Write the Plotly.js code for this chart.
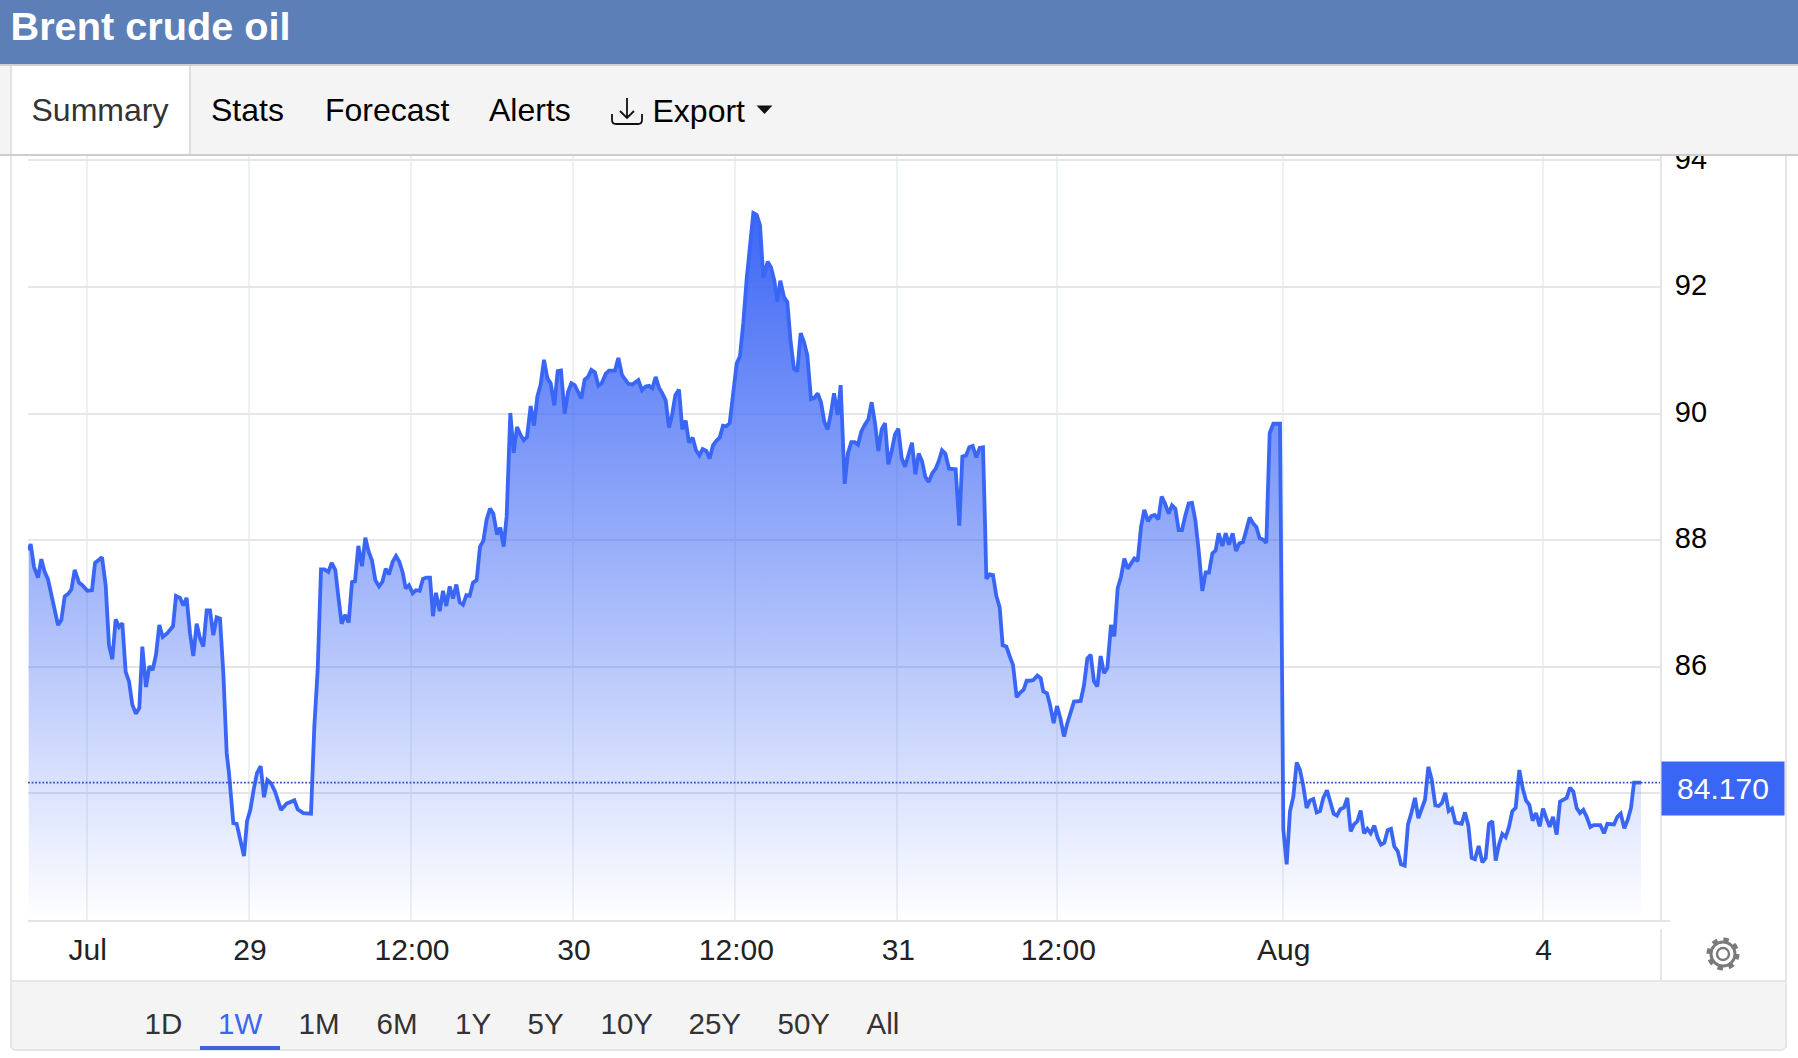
<!DOCTYPE html>
<html><head><meta charset="utf-8">
<script src="https://cdn.plot.ly/plotly-3.0.1.min.js"></script>
<style>
html,body{margin:0;padding:0;background:#fff;overflow:hidden;width:1798px;height:1058px;font-family:"Liberation Sans",Arial,sans-serif}
.a{position:absolute;white-space:nowrap}
.t{position:absolute;white-space:nowrap;line-height:1}
#plot{position:absolute;left:0;top:0;width:1798px;height:1058px;z-index:1}
#head{position:absolute;left:0;top:0;width:1798px;height:156px;z-index:2;background:#f4f4f4}
.tab{font-size:32px;top:94px;color:#000}
.rb{font-size:29.5px;top:1008.5px;color:#333;z-index:2}
</style></head><body>
<div id="head">
  <div class="a" style="left:0;top:0;width:1798px;height:64px;background:#5c7fb8"></div>
  <div class="a" style="left:0;top:64px;width:1798px;height:2px;background:#cfcfcf"></div>
  <div class="a" style="left:0;top:154px;width:1798px;height:2px;background:#cdcdcd"></div>
  <div class="t" style="left:10.5px;top:7px;font-size:39.7px;font-weight:bold;color:#fff">Brent crude oil</div>
  <div class="a" style="left:10px;top:66px;width:2px;height:88px;background:#e2e2e2"></div>
  <div class="a" style="left:12px;top:66px;width:177px;height:88px;background:#fff;border-right:2px solid #dedede"></div>
  <div class="t tab" style="left:31.5px;color:#333">Summary</div>
  <div class="t tab" style="left:211px">Stats</div>
  <div class="t tab" style="left:325px">Forecast</div>
  <div class="t tab" style="left:489px">Alerts</div>
  <svg class="a" style="left:608px;top:95px" width="38" height="32" viewBox="0 0 38 32" fill="none" stroke="#111" stroke-width="1.8">
    <path d="M19 3V22M12 16L19 23L26 16"/><path d="M4 19V25Q4 29 8 29H30Q34 29 34 25V19"/>
  </svg>
  <div class="t tab" style="left:652.5px;top:95px">Export</div>
  <svg class="a" style="left:756px;top:105px" width="18" height="10"><path d="M0.5 0.5H16.5L8.5 9Z" fill="#111"/></svg>
</div>
<div id="plot"></div>
<div class="a" style="left:10px;top:156px;width:2px;height:892px;background:#e6e6e6;z-index:0"></div>
<div class="a" style="left:1785px;top:156px;width:2px;height:892px;background:#e6e6e6;z-index:0"></div>
<div class="a" style="left:1660px;top:919.5px;width:10px;height:2px;background:#e6e6e6;z-index:0"></div>
<div class="a" style="left:1660px;top:929px;width:2px;height:51px;background:#e6e6e6;z-index:0"></div>
<div class="a" style="left:10px;top:980px;width:1777px;height:70.5px;box-sizing:border-box;background:#f4f4f4;border:2px solid #e6e6e6;border-radius:0 0 6px 6px;z-index:0"></div>
<div class="t rb" style="left:144.5px">1D</div>
<div class="t rb" style="left:218px;color:#3b66f0">1W</div>
<div class="t rb" style="left:298.5px">1M</div>
<div class="t rb" style="left:376.5px">6M</div>
<div class="t rb" style="left:455px">1Y</div>
<div class="t rb" style="left:527.5px">5Y</div>
<div class="t rb" style="left:600.5px">10Y</div>
<div class="t rb" style="left:688.5px">25Y</div>
<div class="t rb" style="left:777.5px">50Y</div>
<div class="t rb" style="left:866.5px">All</div>
<div class="a" style="left:200px;top:1045.5px;width:80px;height:4px;background:#3f62d8;z-index:2"></div>
<svg class="a" style="left:1704px;top:934px;z-index:2" width="38" height="40" viewBox="-19 -20 38 40" fill="none" stroke="#7a7a7a">
  <circle r="6" stroke-width="2.4"/><circle r="12" stroke-width="3"/>
  <circle r="14.5" stroke-width="4" stroke-dasharray="5.4 5.98"/>
</svg>
<script>
const sessionTicks=[0,6,16,28,38,48,58,68,78,88,98,108,118,128,138,151,161,176,190,199,208,220,231,241,251,261,271,281,291,301,311,322,332,341,352,362,372,382,392,402,416,433,442,454,464,474,484,494,504,514,524,534,544,554,564,574,584,594,
601,614,624,634,646,655,665,675,685,696,706,716,727,739,757,774,797,807,824,847,857,867,877,887,899,909,920,929,939,949,960,970,979,989,1000,1010,1020,1030,1040,1051,1061,1071,1081,1092,1102,1112,1122,1131,1141,1152,1162,1173,1183,1193,1204,
1213,1222,1233,1243,1253,1263,1273,1283,1293,1303,1313,1323,1333,1344,1354,1364,1374,1384,1394,1405,1415,1425,1434,1445,1455,1465,1475,1485,1495,1506,1516,1526,1536,1546,1556,1566,1577,1587,1597,1608,1618,1628,1638,1648,1658,1668,1678,1688,1699,1709,1719,1731,1741,1759,1769,1780,1790,
1799,1811,1829,1840,1851,1861,1871,1881,1891,1901,1911,1921,1930,1940,1951,1961,1971,1981,1992,2002,2012,2022,2033,2043,2053,2063,2073,2083,2093,2103,2114,2124,2134,2144,2154,2164,2174,2184,2194,2204,2217,2227,2237,2246,2255,2266,2276,2286,2296,2306,2316,2326,2336,2347,2357,2367,2377,2387,2397,
2407,2416,2427,2436,2448,2458,2468,2478,2488,2498,2509,2519,2529,2539,2549,2559,2569,2579,2589,2599,2609,2619,2629,2639,2650,2660,2670,2680,2690,2700,2711,2721,2731,2740,2750,2761,2781,2792,2801,2812,2822,2832,2843,2853,2863,2869,2873,2883,2893,2903,2913,2922,2933,2943,2953,2964,2974,2985,
2994,3004,3014,3026,3036,3044,3055,3064,3075,3085,3095,3106,3116,3136,3156,3166,3176,3186,3196,3206,3216,3226,3236,3247,3257,3267,3277,3287,3297,3307,3317,3327,3337,3347,3358,3368,3378,3389,3399,3409,3420,3430,3440,3450,3460,3470,3480,3490,3500,3510,3521,3531,3541,3551,3561,3570,3581,3591,3601,3612,3622,3632,3643,3653,3663,3673,3683,3693,3703,3713,3723,3734,3754,3757,3760,3763,3764,3774,3784,
3794,3804,3814,3824,3834,3844,3854,3864,3874,3884,3895,3905,3915,3925,3935,3946,3956,3966,3976,3986,3996,4006,4016,4026,4037,4047,4057,4067,4077,4087,4097,4107,4117,4128,4138,4148,4159,4169,4179,4189,4199,4209,4220,4230,4240,4250,4260,4270,4280,
4299,4309,4319,4329,4339,4350,4361,4371,4381,4391,4401,4411,4421,4431,4441,4451,4461,4472,4482,4492,4502,4512,4522,4533,4543,4553,4563,4573,4584,4594,4604,4614,4624,4634,4644,4654,4664,4674,4685,4695,4715,4726,4736,4756,4766,4776,4787,4797,4807,4816,4826,4837];
const prices=[87.84,87.94,87.58,87.41,87.70,87.50,87.38,87.16,86.92,86.66,86.74,87.11,87.15,87.22,87.53,87.33,87.29,87.20,87.21,87.64,87.68,87.73,87.29,86.34,86.12,86.75,86.63,86.69,85.92,85.77,85.40,85.26,85.35,86.32,85.68,86.01,85.95,86.19,86.66,86.47,86.53,86.64,87.12,87.09,86.97,87.09,86.53,86.17,86.68,86.45,86.32,86.89,86.89,86.50,86.78,86.76,85.90,84.64,
84.32,83.53,83.52,83.27,83.01,83.56,83.74,84.06,84.32,84.43,83.94,84.21,84.16,84.03,83.74,83.84,83.89,83.75,83.69,83.68,85.06,85.95,87.54,87.54,87.50,87.64,87.53,87.11,86.68,86.82,86.70,87.34,87.35,87.91,87.59,88.04,87.82,87.68,87.37,87.27,87.34,87.55,87.46,87.66,87.75,87.66,87.49,87.24,87.29,87.16,87.21,87.20,87.39,87.41,87.41,
86.80,87.17,86.88,87.20,86.96,87.27,87.08,87.30,87.02,86.98,87.13,87.12,87.33,87.37,87.90,87.99,88.33,88.50,88.42,88.09,88.20,87.90,88.38,90.01,89.38,89.79,89.67,89.58,89.63,90.12,89.81,90.27,90.46,90.85,90.56,90.48,90.13,90.67,90.68,90.00,90.34,90.48,90.45,90.35,90.24,90.54,90.58,90.69,90.65,90.44,90.48,90.63,90.68,90.68,90.88,90.61,90.54,
90.47,90.46,90.53,90.37,90.43,90.44,90.40,90.58,90.41,90.32,90.21,89.78,89.97,90.29,90.38,89.75,89.89,89.54,89.62,89.42,89.34,89.44,89.41,89.29,89.50,89.57,89.62,89.81,89.80,89.85,90.39,90.79,90.91,91.44,92.13,92.70,93.17,93.14,92.98,92.15,92.40,92.31,92.10,91.77,92.10,91.84,91.76,91.13,90.71,90.67,91.27,91.13,90.92,90.23,90.25,90.32,90.18,89.87,89.75,
90.01,90.32,89.98,90.45,88.89,89.38,89.55,89.55,89.51,89.72,89.83,89.91,90.18,89.85,89.41,89.75,89.85,89.20,89.41,89.67,89.76,89.30,89.16,89.33,89.54,89.04,89.37,89.25,89.00,88.92,89.06,89.13,89.26,89.42,89.37,89.13,89.12,88.23,89.32,89.34,89.47,89.49,89.31,89.46,89.47,88.28,87.39,87.46,87.45,87.12,86.94,86.34,86.32,86.17,86.03,85.52,85.59,85.64,
85.78,85.78,85.79,85.86,85.82,85.61,85.58,85.40,85.11,85.38,85.19,84.90,85.11,85.45,85.46,85.71,86.13,86.19,85.77,85.69,86.17,85.90,85.98,86.66,86.48,87.24,87.42,87.71,87.55,87.63,87.71,87.67,88.21,88.48,88.30,88.38,88.40,88.33,88.69,88.58,88.42,88.55,88.50,88.16,88.16,88.39,88.58,88.59,88.32,87.84,87.20,87.49,87.49,87.79,87.84,88.11,87.91,88.11,87.93,88.11,87.83,87.95,87.97,88.16,88.36,88.27,88.21,88.03,88.01,87.96,89.69,89.84,89.84,87.95,86.37,84.27,83.43,82.88,83.72,
83.95,84.49,84.37,84.11,83.77,83.89,83.91,83.70,83.72,83.93,84.05,83.85,83.68,83.65,83.75,83.78,83.93,83.40,83.51,83.56,83.73,83.37,83.44,83.37,83.49,83.30,83.19,83.22,83.42,83.44,83.16,83.09,82.88,82.86,83.51,83.69,83.93,83.61,83.74,83.90,84.42,84.22,83.81,83.80,83.85,84.01,83.72,83.76,83.54,
83.52,83.70,83.49,82.98,82.96,83.17,82.91,82.98,83.52,83.56,82.94,83.19,83.36,83.31,83.47,83.72,83.77,84.37,84.08,83.89,83.82,83.57,83.69,83.48,83.76,83.61,83.47,83.63,83.35,83.87,83.90,83.93,84.09,84.03,83.77,83.69,83.74,83.63,83.47,83.50,83.50,83.37,83.52,83.51,83.63,83.68,83.45,83.58,83.77,84.17,84.17,84.17];
const xTickVals=[174,661,1147,1633,2120,2606,3086,3762,4542];
const xTickText=["Jul","29","12:00","30","12:00","31","12:00","Aug","4"];
const yTickVals=[84,86,88,90,92,94];
const yTickText=["","86","88","90","92","94"];
const lastPrice=84.17;
const lastPriceLabel="84.170";

const font="'Liberation Sans',Arial,sans-serif";
const trace={x:sessionTicks,y:prices,type:"scatter",mode:"lines",
  line:{color:"#3a66f5",width:3.8,shape:"linear"},
  fill:"tozeroy",
  fillgradient:{type:"vertical",start:82,stop:93.2,
    colorscale:[[0,"rgba(60,102,245,0)"],[1,"rgba(60,102,245,1)"]]},
  hoverinfo:"skip"};
const layout={width:1798,height:1058,autosize:false,
  margin:{l:28,r:138,t:156,b:138,pad:0},
  paper_bgcolor:"rgba(0,0,0,0)",plot_bgcolor:"rgba(0,0,0,0)",
  showlegend:false,font:{family:font,size:29,color:"#000"},
  xaxis:{type:"linear",range:[-2,4894],tickmode:"array",tickvals:xTickVals,ticktext:xTickText,
    showgrid:true,gridcolor:"#edf1f4",gridwidth:2,zeroline:false,
    showline:true,linecolor:"#e4e4e4",linewidth:2,ticks:"",ticklabelstandoff:2,ticklabelshift:1,
    tickfont:{family:font,size:30,color:"#222"},fixedrange:true},
  yaxis:{type:"linear",range:[82,94.07],side:"right",tickmode:"array",tickvals:yTickVals,
    ticktext:yTickText,
    showgrid:true,gridcolor:"#e6e6e6",gridwidth:2,zeroline:false,
    showline:true,linecolor:"#e6e6e6",linewidth:2,ticks:"",ticklabelstandoff:7,ticklabelshift:-2,
    tickfont:{family:font,size:29,color:"#000"},fixedrange:true},
  shapes:[{type:"line",xref:"paper",x0:0,x1:1,yref:"y",y0:lastPrice,y1:lastPrice,
    line:{color:"#2f52c8",width:1.8,dash:"1.8px,1.8px"},layer:"above"}],
  annotations:[{xref:"paper",yref:"y",x:1.0006,y:lastPrice,xanchor:"left",yanchor:"middle",yshift:-5.5,
    text:lastPriceLabel,showarrow:false,width:122,height:53,bgcolor:"#3a66f5",borderpad:0,
    font:{family:font,size:30,color:"#fff"},align:"center",valign:"middle"}]
};
Plotly.newPlot("plot",[trace],layout,{displayModeBar:false,staticPlot:true});
</script>
</body></html>
